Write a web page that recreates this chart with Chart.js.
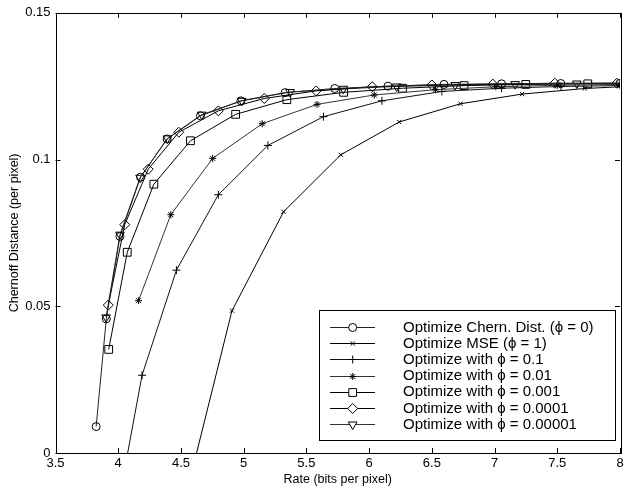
<!DOCTYPE html>
<html>
<head>
<meta charset="utf-8">
<script src="https://cdn.jsdelivr.net/npm/chart.js@4/dist/chart.umd.min.js"></script>
<style>
  html, body { margin: 0; padding: 0; background: #fff; }
  #c { display: block; }
</style>
</head>
<body>
<canvas id="c" width="632" height="488"></canvas>
<script>
// ---- data ----
const seriesLabels = [
  "Optimize Chern. Dist. (\u03d5 = 0)",
  "Optimize MSE (\u03d5 = 1)",
  "Optimize with \u03d5 = 0.1",
  "Optimize with \u03d5 = 0.01",
  "Optimize with \u03d5 = 0.001",
  "Optimize with \u03d5 = 0.0001",
  "Optimize with \u03d5 = 0.00001"
];

const rateChern = [3.824, 3.905, 4.014, 4.178, 4.390, 4.656, 4.978, 5.331, 5.726, 6.150, 6.597, 7.056, 7.528, 8.000];
const distChern = [0.0090, 0.0457, 0.0738, 0.0940, 0.1070, 0.1149, 0.1200, 0.1228, 0.1242, 0.1250, 0.1256, 0.1258, 0.1259, 0.1260];

const rateMSE = [4.450, 4.907, 5.318, 5.774, 6.240, 6.728, 7.220, 7.718, 8.200];
const distMSE = [-0.0300, 0.0485, 0.0822, 0.1016, 0.1128, 0.1190, 0.1223, 0.1242, 0.1252];

const ratePhi1 = [3.980, 4.190, 4.464, 4.798, 5.193, 5.636, 6.102, 6.580, 7.056, 7.530, 8.000];
const distPhi1 = [-0.0220, 0.0265, 0.0623, 0.0880, 0.1048, 0.1146, 0.1200, 0.1232, 0.1243, 0.1249, 0.1252];

const ratePhi2 = [4.162, 4.419, 4.753, 5.148, 5.585, 6.041, 6.530, 7.010, 7.500, 8.000];
const distPhi2 = [0.0519, 0.0812, 0.1004, 0.1122, 0.1188, 0.1220, 0.1238, 0.1248, 0.1253, 0.1256];

const ratePhi3 = [3.924, 4.072, 4.284, 4.576, 4.936, 5.344, 5.797, 6.266, 6.757, 7.249, 7.743, 8.240];
const distPhi3 = [0.0353, 0.0684, 0.0916, 0.1064, 0.1154, 0.1204, 0.1229, 0.1243, 0.1252, 0.1256, 0.1258, 0.1259];

const ratePhi4 = [3.921, 4.052, 4.239, 4.483, 4.798, 5.164, 5.578, 6.025, 6.500, 6.986, 7.480, 7.975];
const distPhi4 = [0.0504, 0.0778, 0.0967, 0.1093, 0.1166, 0.1208, 0.1234, 0.1248, 0.1254, 0.1257, 0.1260, 0.1260];

const ratePhi5 = [3.903, 4.014, 4.174, 4.392, 4.666, 4.985, 5.370, 5.795, 6.220, 6.686, 7.164, 7.656, 8.150];
const distPhi5 = [0.0462, 0.0744, 0.0938, 0.1072, 0.1153, 0.1200, 0.1230, 0.1241, 0.1249, 0.1254, 0.1257, 0.1259, 0.1260];

const xTicks = [3.5, 4, 4.5, 5, 5.5, 6, 6.5, 7, 7.5, 8];
const xTickLabels = ["3.5", "4", "4.5", "5", "5.5", "6", "6.5", "7", "7.5", "8"];
const yTicks = [0, 0.05, 0.1, 0.15];
const yTickLabels = ["0", "0.05", "0.1", "0.15"];

const xTitle = "Rate (bits per pixel)";
const yTitle = "Chernoff Distance (per pixel)";

// ---- build datasets ----
function pts(xs, ys) { return xs.map((x, i) => ({ x: x, y: ys[i] })); }

const styles = [
  { pointStyle: 'circle',   radius: 4,   rotation: 0,   color: '#222' },
  { pointStyle: 'crossRot', radius: 3,   rotation: 0,   color: '#000' },
  { pointStyle: 'cross',    radius: 4,   rotation: 0,   color: '#111' },
  { pointStyle: 'star',     radius: 3.5, rotation: 0,   color: '#333' },
  { pointStyle: 'rect',     radius: 5.5, rotation: 0,   color: '#000' },
  { pointStyle: 'rectRot',  radius: 5,   rotation: 0,   color: '#000' },
  { pointStyle: 'triangle', radius: 5,   rotation: 180, color: '#333' }
];
const seriesData = [
  pts(rateChern, distChern),
  pts(rateMSE, distMSE),
  pts(ratePhi1, distPhi1),
  pts(ratePhi2, distPhi2),
  pts(ratePhi3, distPhi3),
  pts(ratePhi4, distPhi4),
  pts(ratePhi5, distPhi5)
];

const datasets = seriesData.map((d, i) => ({
  label: seriesLabels[i],
  data: d,
  showLine: true,
  borderColor: styles[i].color,
  borderWidth: 1,
  pointStyle: styles[i].pointStyle,
  pointRadius: styles[i].radius,
  pointRotation: styles[i].rotation,
  pointBorderColor: '#000',
  pointBackgroundColor: 'rgba(0,0,0,0)',
  pointBorderWidth: 1,
  pointHoverRadius: styles[i].radius,
  tension: 0,
  fill: false
}));

const FONT = "'Liberation Sans', Arial, Helvetica, sans-serif";

// draws frame, inward ticks and the legend box
const framePlugin = {
  id: 'frame',
  afterDraw(chart) {
    const ctx = chart.ctx;
    const a = chart.chartArea;
    const xs = chart.scales.x, ys = chart.scales.y;
    ctx.save();
    ctx.strokeStyle = '#000';
    ctx.lineWidth = 1;
    ctx.strokeRect(Math.round(a.left) + 0.5, Math.round(a.top) + 0.5,
                   Math.round(a.right - a.left), Math.round(a.bottom - a.top));
    const tl = 5;
    ctx.beginPath();
    xTicks.forEach(v => {
      const px = Math.round(xs.getPixelForValue(v)) + 0.5;
      ctx.moveTo(px, a.bottom); ctx.lineTo(px, a.bottom - tl);
      ctx.moveTo(px, a.top); ctx.lineTo(px, a.top + tl);
    });
    yTicks.forEach(v => {
      const py = Math.round(ys.getPixelForValue(v)) + 0.5;
      ctx.moveTo(a.left, py); ctx.lineTo(a.left + tl, py);
      ctx.moveTo(a.right, py); ctx.lineTo(a.right - tl, py);
    });
    ctx.stroke();

    // legend
    const bx = 319.5, by = 310.5, bw = 296, bh = 130;
    ctx.fillStyle = '#fff';
    ctx.fillRect(bx, by, bw, bh);
    ctx.strokeStyle = '#000';
    ctx.lineWidth = 1;
    ctx.strokeRect(bx, by, bw, bh);
    const row0 = 327, rowH = 16.2;
    ctx.font = '15px ' + FONT;
    ctx.textBaseline = 'middle';
    ctx.textAlign = 'left';
    chart.data.datasets.forEach((ds, i) => {
      const y = row0 + i * rowH;
      ctx.strokeStyle = ds.borderColor;
      ctx.lineWidth = 1;
      ctx.beginPath();
      ctx.moveTo(330, Math.round(y) + 0.5);
      ctx.lineTo(375, Math.round(y) + 0.5);
      ctx.stroke();
      const opts = { pointStyle: ds.pointStyle, radius: ds.pointRadius, rotation: ds.pointRotation, borderWidth: 1 };
      ctx.fillStyle = '#fff';
      ctx.strokeStyle = ds.pointBorderColor;
      if (Chart.helpers && Chart.helpers.drawPoint) {
        Chart.helpers.drawPoint(ctx, opts, 352.7, Math.round(y) + 0.5);
      }
      ctx.fillStyle = '#000';
      ctx.fillText(ds.label, 403, y + 0.5);
    });
    ctx.restore();
  }
};

new Chart(document.getElementById('c'), {
  type: 'scatter',
  data: { datasets: datasets },
  options: {
    responsive: false,
    devicePixelRatio: 1,
    animation: false,
    layout: { padding: { top: 7, right: 12, left: 0, bottom: 0 } },
    plugins: {
      legend: { display: false },
      tooltip: { enabled: false },
      title: { display: false }
    },
    scales: {
      x: {
        type: 'linear',
        min: 3.5, max: 8,
        afterFit(s) { s.height = 35; },
        afterBuildTicks(s) { s.ticks = xTicks.map(v => ({ value: v })); },
        grid: { display: false, drawTicks: false },
        border: { display: false },
        ticks: {
          padding: 3,
          color: '#000',
          font: { family: FONT, size: 13 },
          maxRotation: 0,
          autoSkip: false,
          callback: (v) => xTickLabels[xTicks.indexOf(v)]
        },
        title: {
          display: true, text: xTitle, color: '#000',
          font: { family: FONT, size: 12.5 },
          padding: { top: 0, bottom: 1 }
        }
      },
      y: {
        type: 'linear',
        min: 0, max: 0.15,
        afterFit(s) { s.width = 55.5; },
        afterBuildTicks(s) { s.ticks = yTicks.map(v => ({ value: v })); },
        grid: { display: false, drawTicks: false },
        border: { display: false },
        ticks: {
          padding: 5,
          color: '#000',
          font: { family: FONT, size: 13 },
          autoSkip: false,
          callback: (v) => yTickLabels[yTicks.indexOf(v)]
        },
        title: {
          display: true, text: yTitle, color: '#000',
          font: { family: FONT, size: 12.5 },
          padding: { top: 7, bottom: 0 }
        }
      }
    }
  },
  plugins: [framePlugin]
});
</script>
</body>
</html>
